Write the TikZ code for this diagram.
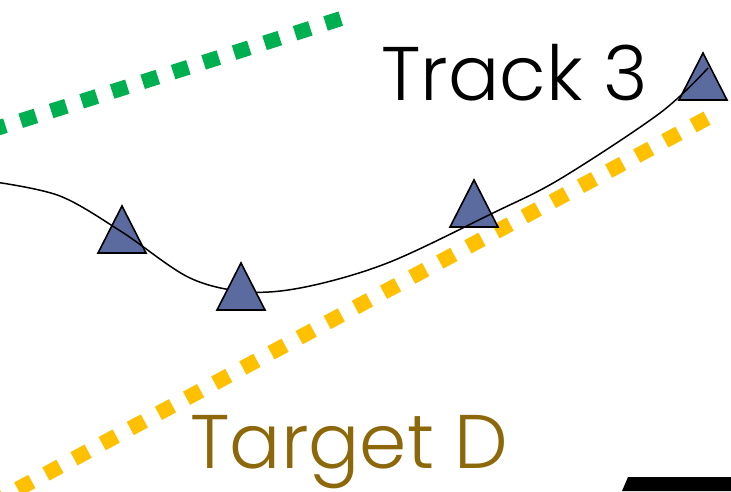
\documentclass[tikz,border=0pt]{standalone}
\usepackage{fontspec}
\newfontfamily\labelfont{Poppins Light}
\definecolor{trackgreen}{RGB}{0,176,80}
\definecolor{trackyellow}{RGB}{255,192,0}
\definecolor{markerblue}{RGB}{91,106,159}
\definecolor{targetbrown}{RGB}{140,104,10}
\tikzset{
  greenband/.style={draw=trackgreen, line width=15pt, dash pattern=on 16pt off 16pt},
  yellowband/.style={draw=trackyellow, line width=15pt, dash pattern=on 16pt off 15.95pt},
  marker/.style={fill=markerblue, draw=black, line width=1.6pt, line join=miter},
  trackline/.style={draw=black, line width=1.5pt},
  bigtext/.style={inner sep=0pt, anchor=base west, font=\labelfont}
}
\newcommand{\tri}[1]{(#1) -- ++(24,47) -- ++(-48,0) -- cycle}
\begin{document}
\begin{tikzpicture}[x=1pt, y=-1pt]
\useasboundingbox (0,0) rectangle (731,491);
\clip (0,0) rectangle (731,491);

% dotted bands
\coordinate (g0) at (-40.3,140.2);
\coordinate (g1) at (340.9,18.6);
\draw[greenband] (g0) -- (g1);
\coordinate (y0) at (-10.4,504.2);
\coordinate (y1) at (707.0,118.2);
\draw[yellowband] (y0) -- (y1);

% track markers behind the line
\coordinate (t1) at (122,206);
\coordinate (t3) at (474,180);
\coordinate (t4) at (703,53);
\coordinate (t2) at (241,263);
\draw[marker] \tri{t1};
\draw[marker] \tri{t3};
\draw[marker] \tri{t4};

% the track
\draw[trackline] plot[smooth, tension=0.55] coordinates {
  (-5,182) (60,196) (122,232) (190,278) (250,292) (310,286)
  (390,262) (493,213) (560,179) (660,113) (708,68)};

% marker in front of the line
\draw[marker] \tri{t2};

% labels
\node[bigtext, font=\labelfont\fontsize{76}{76}\selectfont] (track) at (381,100) {Track 3};
\node[bigtext, text=targetbrown, font=\labelfont\fontsize{76}{76}\selectfont] (target) at (190,468) {Target D};

% corner block
\fill[black] (628,477) -- (731,477) -- (731,491) -- (622,491) -- cycle;
\end{tikzpicture}
\end{document}
